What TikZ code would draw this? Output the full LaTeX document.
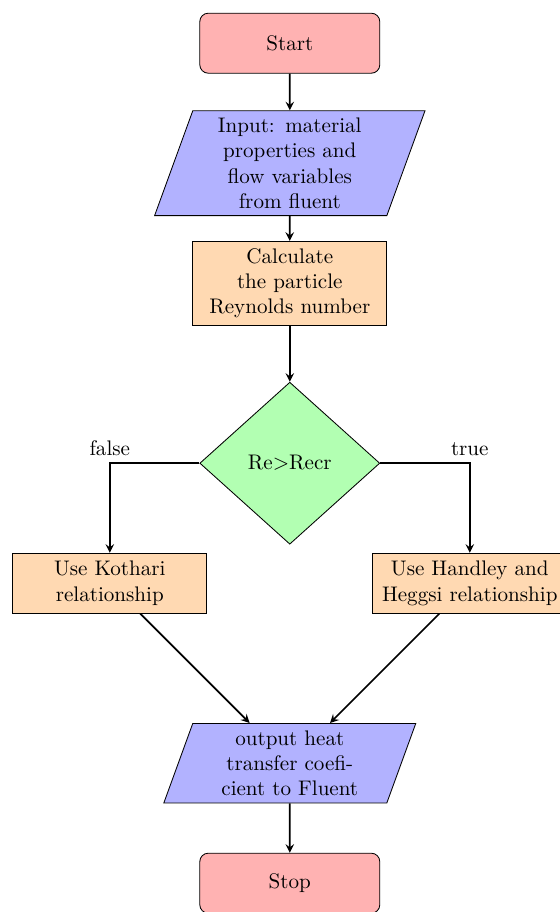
\documentclass[tikz,border=0pt]{standalone}
\usepackage{amsmath,amssymb,amsfonts}
\usepackage{xcolor}
\usepackage{tikz}
\usetikzlibrary{shapes.geometric,arrows}

\tikzset{
  startstop/.style={rectangle, rounded corners, minimum width=3cm, minimum height=1cm, text centered, draw=black, fill=red!30},
  io/.style={trapezium, trapezium left angle=70, trapezium right angle=110, minimum width=3cm, minimum height=1cm, text width=3cm, text centered, draw=black, fill=blue!30},
  process/.style={rectangle, minimum width=3cm, minimum height=1cm, text width=3cm, text centered, draw=black, fill=orange!30},
  decision/.style={diamond, minimum width=3cm, minimum height=2.7cm, text centered, draw=black, fill=green!30},
  arrow/.style={thick,->,>=stealth}
}

\begin{document}
\begin{tikzpicture}
\useasboundingbox (-4.83,0.72) rectangle (4.49,-14.48);
\node[startstop] (start) at (0,0) {Start};
\node[io] (in1) at (0,-2) {Input: material properties and flow variables from fluent};
\node[process] (pro1) at (0,-4) {Calculate the particle Reynolds number};
\node[decision] (dec1) at (0,-7) {Re>Recr};
\node[process] (pro2a) at (-3,-9) {Use Kothari relationship};
\node[process] (pro2b) at (3,-9) {Use Handley and Heggsi relationship};
\node[io] (out1) at (0,-12) {output heat transfer coeficient to Fluent};
\node[startstop] (stop) at (0,-14) {Stop};

\draw[arrow] (start) -- (in1);
\draw[arrow] (in1) -- (pro1);
\draw[arrow] (pro1) -- (dec1);
\draw[arrow] (dec1) -| node[anchor=south] {false} (pro2a);
\draw[arrow] (dec1) -| node[anchor=south] {true} (pro2b);
\draw[arrow] (pro2a) -- (out1);
\draw[arrow] (pro2b) -- (out1);
\draw[arrow] (out1) -- (stop);
\end{tikzpicture}
\end{document}
